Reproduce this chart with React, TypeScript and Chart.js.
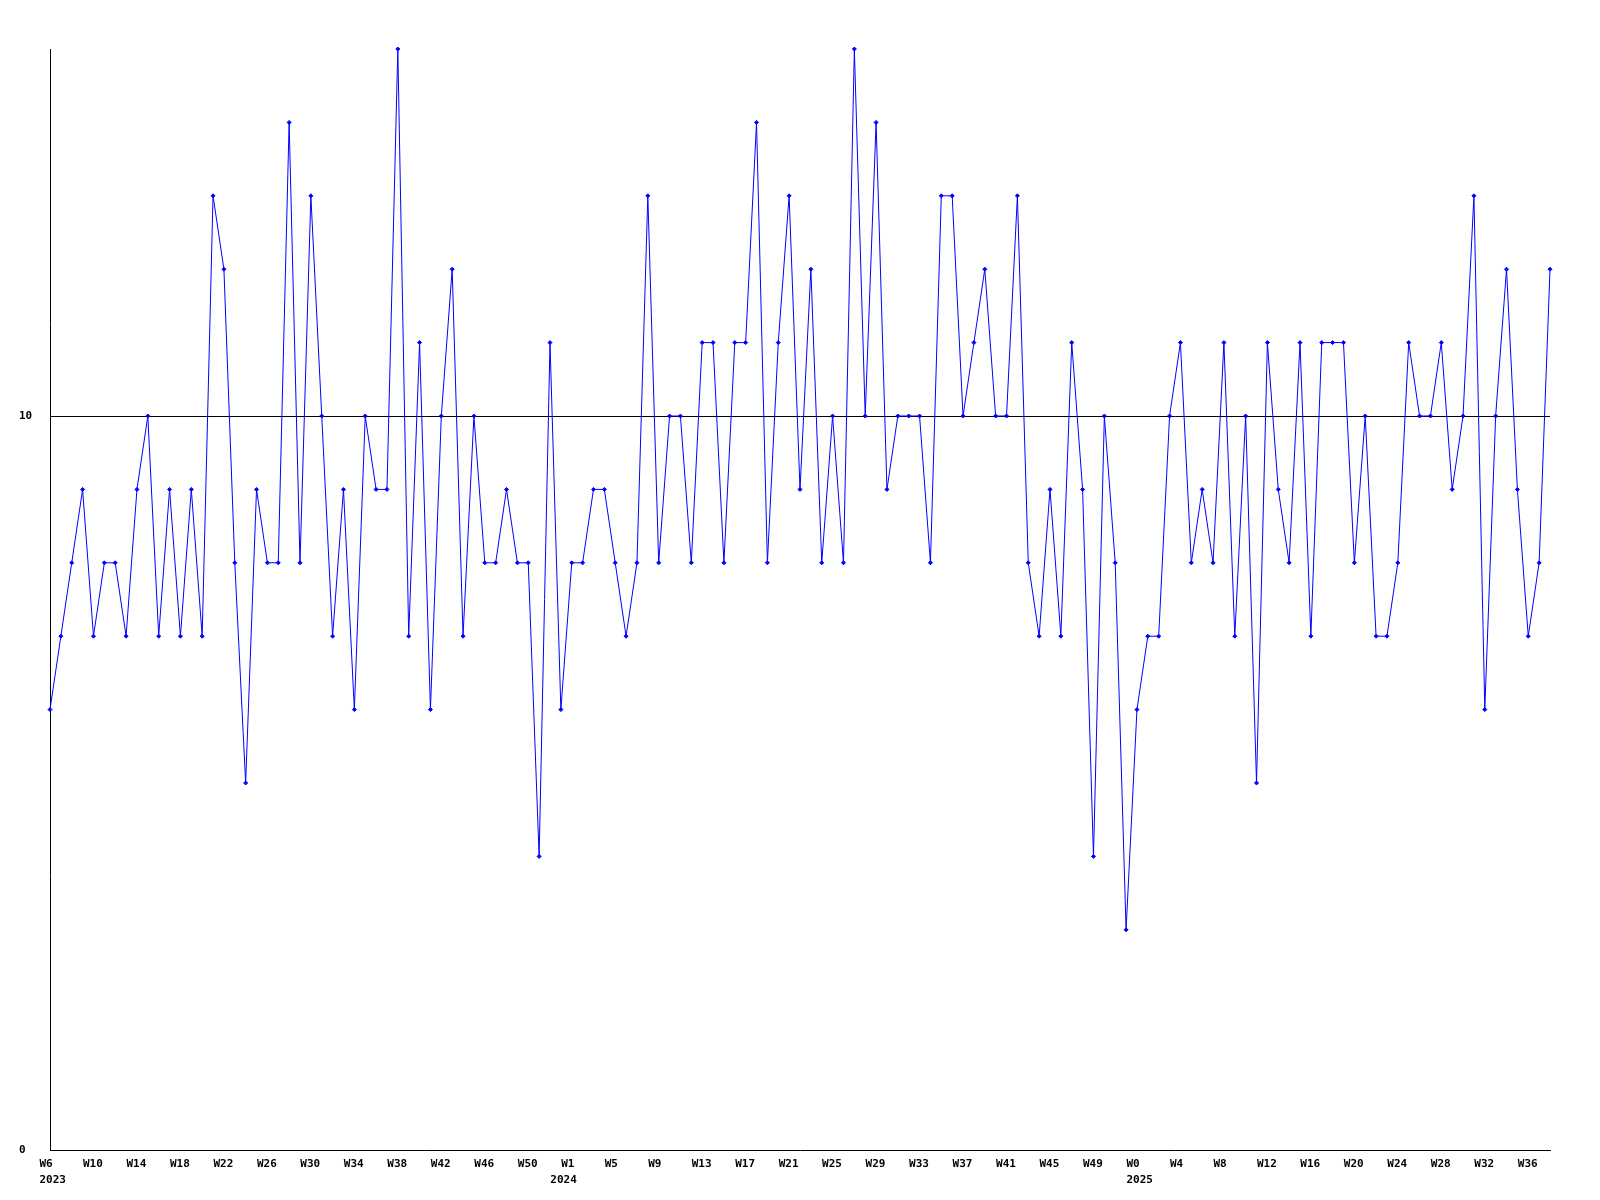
import React, { useEffect, useRef } from "react";
import { Chart, registerables } from "chart.js";

Chart.register(...registerables);

// Weekly values, W6 2023 .. W38 2025 (one point per week)
const values: number[] = [
  6, 7, 8, 9, 7, 8, 8, 7, 9, 10, 7, 9, 7, 9, 7, 13, 12, 8,
  5, 9, 8, 8, 14, 8, 13, 10, 7, 9, 6, 10, 9, 9, 15, 7, 11, 6,
  10, 12, 7, 10, 8, 8, 9, 8, 8, 4, 11, 6, 8, 8, 9, 9, 8,
  7, 8, 13, 8, 10, 10, 8, 11, 11, 8, 11, 11, 14, 8, 11, 13, 9, 12,
  8, 10, 8, 15, 10, 14, 9, 10, 10, 10, 8, 13, 13, 10, 11, 12, 10,
  10, 13, 8, 7, 9, 7, 11, 9, 4, 10, 8, 3, 6, 7, 7, 10, 11, 8,
  9, 8, 11, 7, 10, 5, 11, 9, 8, 11, 7, 11, 11, 11, 8, 10, 7,
  7, 8, 11, 10, 10, 11, 9, 10, 13, 6, 10, 12, 9, 7, 8, 12,
];

// Labelled week ticks (one every 4 weeks)
const weekTicks: string[] = [
  "W6", "W10", "W14", "W18", "W22", "W26", "W30", "W34", "W38", "W42", "W46", "W50",
  "W1", "W5", "W9", "W13", "W17", "W21", "W25", "W29", "W33", "W37", "W41", "W45", "W49",
  "W0", "W4", "W8", "W12", "W16", "W20", "W24", "W28", "W32", "W36",
];
const yearLabels: string[] = ["2023", "2024", "2025"];
// point index of the first week of each year
const yearStartIndex: number[] = [0, 47, 100];
const tickEvery = 4;
const yTicks: number[] = [0, 10];

const FONT = {
  family: "'DejaVu Sans Mono', 'Liberation Mono', monospace",
  size: 11,
  weight: "bold" as const,
  lineHeight: "16px",
};

export default function App() {
  const ref = useRef<HTMLCanvasElement>(null);

  useEffect(() => {
    if (!ref.current) return;
    const categories = values.map((_, i) => String(i));
    const chart = new Chart(ref.current, {
      type: "line",
      data: {
        labels: categories,
        datasets: [
          {
            data: values,
            borderColor: "#0000ff",
            backgroundColor: "#0000ff",
            borderWidth: 1,
            pointStyle: "rectRot",
            pointRadius: 2,
            pointBorderWidth: 1,
            pointBorderColor: "#0000ff",
            pointBackgroundColor: "#0000ff",
            tension: 0,
            clip: false as any,
          },
        ],
      },
      options: {
        responsive: false,
        animation: false,
        devicePixelRatio: 1,
        layout: { padding: { left: 11, top: 41, right: 42, bottom: 0 } },
        plugins: {
          legend: { display: false },
          tooltip: { enabled: false },
        },
        scales: {
          x: {
            type: "category",
            offset: false,
            grid: { display: false, drawTicks: false },
            border: { display: true, color: "#000000", width: 1 },
            afterFit: (s: any) => {
              s.height = 42;
            },
            ticks: {
              autoSkip: false,
              maxRotation: 0,
              minRotation: 0,
              align: "start",
              labelOffset: -10.5,
              padding: 6,
              color: "#000000",
              font: FONT,
              callback: (_v: any, i: number) => {
                const w = i % tickEvery === 0 ? weekTicks[i / tickEvery] || "" : "";
                const y = yearStartIndex.indexOf(i);
                if (y >= 0) return [w, yearLabels[y]];
                return w;
              },
            },
          },
          y: {
            min: 0,
            max: 15,
            afterBuildTicks: (s: any) => {
              s.ticks = yTicks.map((v) => ({ value: v }));
            },
            afterFit: (s: any) => {
              s.width = 31;
            },
            grid: {
              drawTicks: false,
              lineWidth: 1,
              color: (ctx: any) =>
                ctx.tick && ctx.tick.value === 10 ? "#000000" : "rgba(0,0,0,0)",
            },
            border: { display: true, color: "#000000", width: 1 },
            ticks: {
              crossAlign: "far",
              padding: 0,
              color: "#000000",
              font: FONT,
            },
          },
        },
      },
    });
    return () => chart.destroy();
  }, []);

  return (
    <canvas
      ref={ref}
      width={1584}
      height={1184}
      style={{ display: "block", width: 1584, height: 1184 }}
    />
  );
}
